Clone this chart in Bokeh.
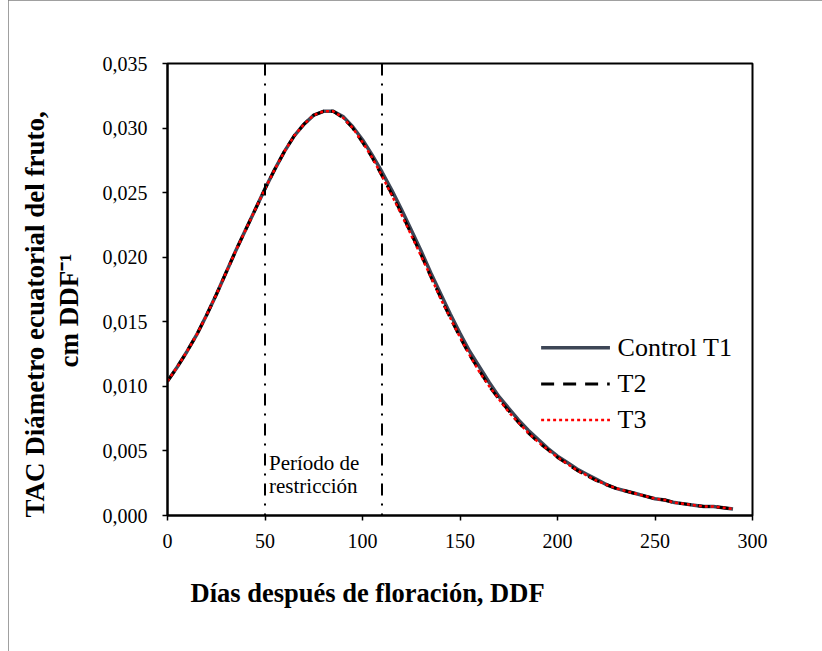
from bokeh.plotting import figure
from bokeh.models import Span, Label, Title, FixedTicker, CustomJSTickFormatter, Range1d
from bokeh.embed import file_html
from bokeh.resources import INLINE

# Days after flowering (DDF), sampled every 5 days
days = list(range(0, 291, 5))

# Absolute growth rate of the equatorial fruit diameter, cm DDF^-1
control_t1 = [
    0.0104, 0.0115, 0.0127, 0.0140, 0.0155, 0.0171, 0.0188, 0.0205, 0.0221, 0.0237,
    0.0253, 0.0268, 0.0282, 0.0294, 0.0303, 0.0310, 0.0313, 0.0313, 0.0309, 0.0301,
    0.0291, 0.0279, 0.0266, 0.0252, 0.0237, 0.0221, 0.0205, 0.0188, 0.0172, 0.0156,
    0.0141, 0.0127, 0.0115, 0.0103, 0.0092, 0.0083, 0.0074, 0.0066, 0.0059, 0.0052,
    0.0046, 0.0041, 0.0036, 0.0032, 0.0028, 0.0024, 0.0021, 0.0019, 0.0017, 0.0015,
    0.0013, 0.0012, 0.0010, 0.0009, 0.0008, 0.0007, 0.0007, 0.0006, 0.0005,
]
t2 = [
    0.0104, 0.0115, 0.0127, 0.0140, 0.0155, 0.0171, 0.0188, 0.0205, 0.0221, 0.0237,
    0.0253, 0.0268, 0.0282, 0.0294, 0.0303, 0.0310, 0.0313, 0.0313, 0.0308, 0.0300,
    0.0289, 0.0277, 0.0263, 0.0249, 0.0234, 0.0218, 0.0202, 0.0185, 0.0169, 0.0153,
    0.0138, 0.0124, 0.0112, 0.0100, 0.0090, 0.0081, 0.0072, 0.0064, 0.0057, 0.0051,
    0.0045, 0.0040, 0.0035, 0.0031, 0.0027, 0.0024, 0.0021, 0.0019, 0.0017, 0.0015,
    0.0013, 0.0012, 0.0010, 0.0009, 0.0008, 0.0007, 0.0007, 0.0006, 0.0005,
]
t3 = [
    0.0104, 0.0115, 0.0127, 0.0140, 0.0155, 0.0171, 0.0188, 0.0205, 0.0221, 0.0237,
    0.0253, 0.0268, 0.0282, 0.0294, 0.0303, 0.0310, 0.0313, 0.0313, 0.0308, 0.0300,
    0.0289, 0.0277, 0.0263, 0.0248, 0.0233, 0.0217, 0.0201, 0.0185, 0.0168, 0.0153,
    0.0138, 0.0124, 0.0111, 0.0100, 0.0090, 0.0080, 0.0072, 0.0064, 0.0057, 0.0051,
    0.0045, 0.0040, 0.0035, 0.0031, 0.0027, 0.0024, 0.0021, 0.0019, 0.0017, 0.0015,
    0.0013, 0.0012, 0.0010, 0.0009, 0.0008, 0.0007, 0.0007, 0.0006, 0.0005,
]

# Restriction period limits (DDF)
restriction = [50, 110]

x_ticks = [0, 50, 100, 150, 200, 250, 300]
y_ticks = [0.000, 0.005, 0.010, 0.015, 0.020, 0.025, 0.030, 0.035]

SERIF = "Liberation Serif"
C_CONTROL = "#3d4656"

p = figure(
    width=814, height=651,
    x_range=Range1d(0, 300), y_range=Range1d(0, 0.035),
    output_backend="svg", toolbar_location=None,
    min_border_left=159, min_border_right=70,
    min_border_top=63, min_border_bottom=136,
    margin=(0, 0, 0, 8),
)
p.styles = {"outline": "1px solid #808080", "outline-offset": "-1px"}
p.background_fill_color = "white"
p.border_fill_color = "white"
p.outline_line_color = "black"
p.outline_line_width = 2
p.xgrid.visible = False
p.ygrid.visible = False

for ax in (p.xaxis[0], p.yaxis[0]):
    ax.axis_line_color = "black"
    ax.axis_line_width = 2
    ax.major_tick_line_color = "black"
    ax.major_tick_line_width = 1.5
    ax.major_tick_in = 0
    ax.major_tick_out = 5
    ax.minor_tick_line_color = None
    ax.major_label_text_font = SERIF
    ax.major_label_text_font_size = "20px"
    ax.major_label_text_color = "black"

p.xaxis.ticker = FixedTicker(ticks=x_ticks)
p.yaxis.ticker = FixedTicker(ticks=y_ticks)
p.xaxis.major_label_standoff = 13
p.yaxis.major_label_standoff = 15
p.yaxis.formatter = CustomJSTickFormatter(code="return tick.toFixed(3).replace('.', ',');")

# y-axis title: two bold lines, each starting from its own offset above the frame bottom
title_style = dict(text_font=SERIF, text_font_style="bold", text_font_size="27px",
                   text_color="black", align="left")
p.add_layout(Title(text="cm DDF⁻¹", offset=148, standoff=31, **title_style), "left")
p.add_layout(Title(text="TAC Diámetro ecuatorial del fruto,", offset=-2, standoff=-26,
                   **title_style), "left")

# x-axis title sits left of centre, under the first half of the axis
p.add_layout(Title(text="Días después de floración, DDF", offset=23, standoff=50,
                   **dict(title_style, text_font_size="26.5px")), "below")

# Restriction period markers
for d in restriction:
    p.add_layout(Span(location=d, dimension="height", line_color="black",
                      line_width=2, line_dash="12 8 2 8"))

for txt, yy in (("Período de", 0.0041), ("restricción", 0.00232)):
    p.add_layout(Label(x=restriction[0], y=yy, x_offset=4, text=txt,
                       text_font=SERIF, text_font_size="21px", text_color="black",
                       text_baseline="alphabetic"))

# Growth-rate curves
p.line(days, control_t1, line_color=C_CONTROL, line_width=3.5)
p.line(days, t2, line_color="black", line_width=3, line_dash="12 7")
p.line(days, t3, line_color="#ff0000", line_width=2.5, line_dash="3 3")

# Hand-placed legend (sample line start/end in DDF, row heights in rate units)
leg_x0 = 191.6
leg_text_x = 230.8
leg_rows = [
    ("Control T1", 0.01298, 226.9, dict(line_color=C_CONTROL, line_width=3.5)),
    ("T2", 0.01019, 226.8, dict(line_color="black", line_width=3, line_dash="13 9")),
    ("T3", 0.00740, 226.9, dict(line_color="#ff0000", line_width=2.5, line_dash="3 3")),
]
for label, yy, x1, style in leg_rows:
    p.line([leg_x0, x1], [yy, yy], **style)
    p.add_layout(Label(x=leg_text_x, y=yy, text=label, text_font=SERIF, text_font_size="26px",
                       text_color="black", text_baseline="middle", text_align="left"))

open("out.html", "w").write(file_html(p, INLINE))
